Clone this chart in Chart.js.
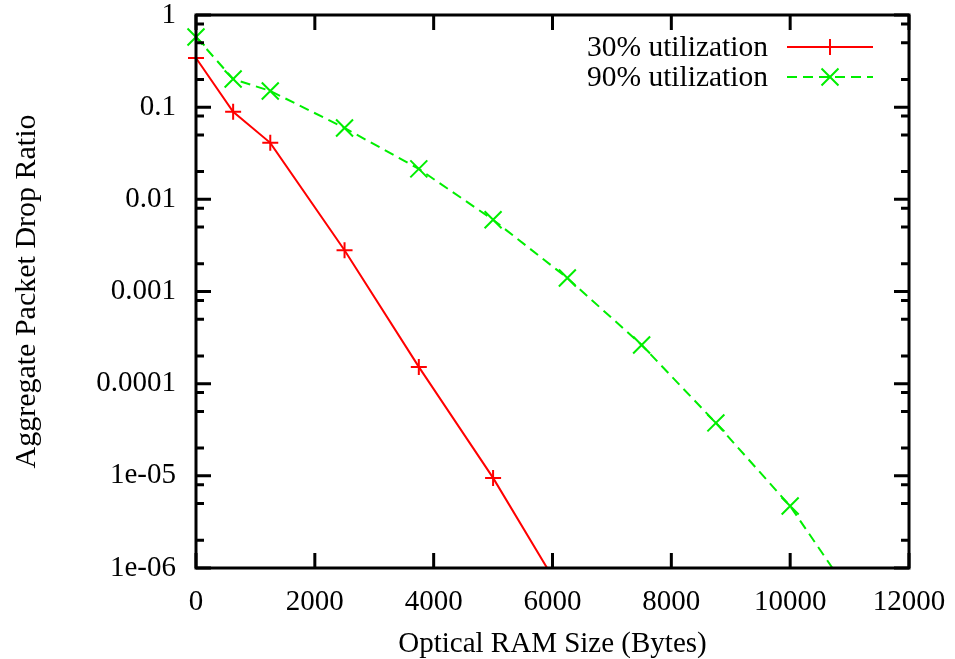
<!DOCTYPE html>
<html>
<head>
<meta charset="utf-8">
<title>Aggregate Packet Drop Ratio</title>
<script src="https://cdn.jsdelivr.net/npm/chart.js@4.4.1/dist/chart.umd.min.js"></script>
<style>
  html, body { margin: 0; padding: 0; background: #fff; }
  #wrap { width: 955px; height: 659px; }
</style>
</head>
<body>
<div id="wrap"><canvas id="dropRatio" width="955" height="659"></canvas></div>
<script>
// RAM sizes (bytes) where the drop ratio was measured
const ramSizes = [0, 625, 1250, 2500, 3750, 5000, 6250, 7500, 8750, 10000, 11250];

// drop ratio, 30% load
const drop30 = [0.342, 0.089, 0.041, 0.0028, 0.000152, 9.5e-6, 4.3e-7];
// drop ratio, 90% load
const drop90 = [0.577, 0.202, 0.150, 0.0595, 0.0214, 0.0060, 0.0014, 0.000263, 3.75e-5, 4.7e-6, 3.1e-7];

const seriesNames = ['30% utilization', '90% utilization'];

const xTickValues = [0, 2000, 4000, 6000, 8000, 10000, 12000];
const yTickValues = [1e-6, 1e-5, 1e-4, 1e-3, 1e-2, 1e-1, 1];
const yTickLabels = ['1e-06', '1e-05', '0.0001', '0.001', '0.01', '0.1', '1'];
const yMinorSteps = [2, 5, 8];

const FONT = 'Liberation Serif, Times New Roman, serif';

function toPoints(ys) {
    return ys.map((y, i) => ({ x: ramSizes[i], y: y }));
}

// gnuplot style frame: box border, ticks pointing inwards on all four sides
const frameTicks = {
    id: 'frameTicks',
    afterDatasetsDraw(chart) {
        const { ctx, chartArea: a } = chart;
        const xs = chart.scales.x, ys = chart.scales.y;
        const major = 15, minor = 8;
        ctx.save();
        ctx.strokeStyle = '#000';
        ctx.lineWidth = 3;
        ctx.lineCap = 'butt';
        ctx.beginPath();
        xTickValues.forEach(v => {
            const px = xs.getPixelForValue(v);
            ctx.moveTo(px, a.bottom); ctx.lineTo(px, a.bottom - major);
            ctx.moveTo(px, a.top); ctx.lineTo(px, a.top + major);
        });
        yTickValues.forEach(v => {
            const py = ys.getPixelForValue(v);
            ctx.moveTo(a.left, py); ctx.lineTo(a.left + major, py);
            ctx.moveTo(a.right, py); ctx.lineTo(a.right - major, py);
            if (v < 1) {
                yMinorSteps.forEach(m => {
                    const pm = ys.getPixelForValue(v * m);
                    ctx.moveTo(a.left, pm); ctx.lineTo(a.left + minor, pm);
                    ctx.moveTo(a.right, pm); ctx.lineTo(a.right - minor, pm);
                });
            }
        });
        ctx.stroke();
        ctx.strokeRect(a.left, a.top, a.right - a.left, a.bottom - a.top);
        ctx.restore();
    }
};

// key in the top right corner, text then line sample with marker
const keyBox = {
    id: 'keyBox',
    afterDraw(chart) {
        const { ctx } = chart;
        const textRight = 768, lineStart = 787, lineEnd = 873;
        const rows = [47, 77];
        ctx.save();
        ctx.font = '29.5px ' + FONT;
        ctx.fillStyle = '#000';
        ctx.textAlign = 'right';
        ctx.textBaseline = 'middle';
        chart.data.datasets.forEach((ds, i) => {
            const y = rows[i];
            ctx.fillText(ds.label, textRight, y + 1);
            ctx.strokeStyle = ds.borderColor;
            ctx.lineWidth = ds.borderWidth;
            ctx.setLineDash(ds.borderDash || []);
            ctx.beginPath();
            ctx.moveTo(lineStart, y);
            ctx.lineTo(lineEnd, y);
            ctx.stroke();
            ctx.setLineDash([]);
            ctx.lineWidth = ds.pointBorderWidth;
            Chart.helpers.drawPoint(ctx, {
                pointStyle: ds.pointStyle,
                radius: ds.pointRadius,
                rotation: 0,
                borderWidth: ds.pointBorderWidth
            }, (lineStart + lineEnd) / 2, y);
        });
        ctx.restore();
    }
};

const ctx = document.getElementById('dropRatio').getContext('2d');
const dropChart = new Chart(ctx, {
    type: 'line',
    data: {
        datasets: [{
            label: seriesNames[0],
            data: toPoints(drop30),
            borderColor: '#ff0000',
            backgroundColor: '#ff0000',
            borderWidth: 2,
            pointStyle: 'cross',
            pointRadius: 8,
            pointBorderWidth: 2,
            pointBorderColor: '#ff0000',
            clip: { left: 14, top: 14, right: 0, bottom: 0 }
        }, {
            label: seriesNames[1],
            data: toPoints(drop90),
            borderColor: '#00ee00',
            backgroundColor: '#00ee00',
            borderWidth: 2,
            borderDash: [10, 6],
            pointStyle: 'crossRot',
            pointRadius: 12,
            pointBorderWidth: 2,
            pointBorderColor: '#00ee00',
            clip: { left: 14, top: 14, right: 0, bottom: 0 }
        }]
    },
    options: {
        responsive: false,
        animation: false,
        events: [],
        layout: { padding: { left: 0, top: 15, right: 46, bottom: 0 } },
        plugins: {
            legend: { display: false },
            tooltip: { enabled: false }
        },
        scales: {
            x: {
                type: 'linear',
                min: 0,
                max: 12000,
                afterBuildTicks: s => { s.ticks = xTickValues.map(v => ({ value: v })); },
                afterFit: s => { s.height = 91; s.paddingLeft = 0; s.paddingRight = 0; },
                grid: { display: false, drawTicks: false },
                border: { display: false },
                ticks: {
                    color: '#000',
                    padding: 17,
                    maxRotation: 0,
                    font: { family: FONT, size: 29 },
                    callback: v => String(v)
                },
                title: {
                    display: true,
                    text: 'Optical RAM Size (Bytes)',
                    color: '#000',
                    padding: { top: 0, bottom: 0 },
                    font: { family: FONT, size: 29, lineHeight: 1 }
                }
            },
            y: {
                type: 'logarithmic',
                min: 1e-6,
                max: 1,
                afterBuildTicks: s => { s.ticks = yTickValues.map(v => ({ value: v })); },
                afterFit: s => { s.width = 196; s.paddingTop = 0; s.paddingBottom = 0; },
                grid: { display: false, drawTicks: false },
                border: { display: false },
                ticks: {
                    color: '#000',
                    padding: 20,
                    font: { family: FONT, size: 29 },
                    callback: (v, i) => yTickLabels[i]
                },
                title: {
                    display: true,
                    text: 'Aggregate Packet Drop Ratio',
                    color: '#000',
                    padding: { top: 12, bottom: 0 },
                    font: { family: FONT, size: 30, lineHeight: 1 }
                }
            }
        }
    },
    plugins: [frameTicks, keyBox]
});
</script>
</body>
</html>
